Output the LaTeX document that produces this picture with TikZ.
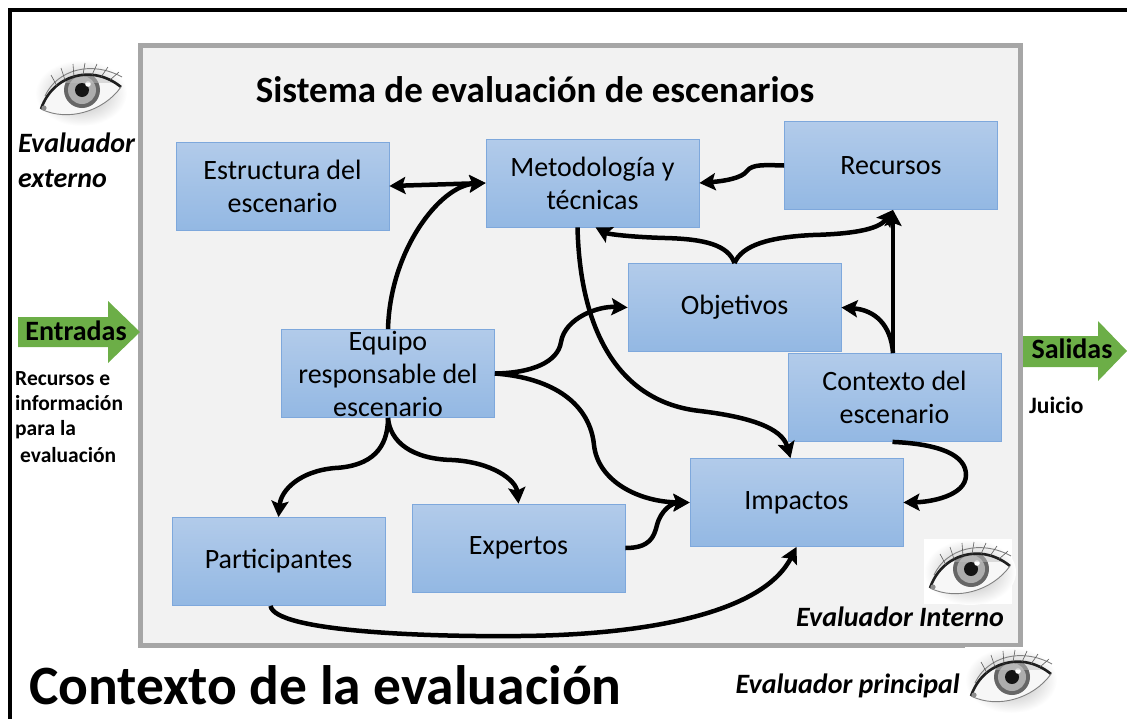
\documentclass[tikz,border=0pt]{standalone}
\usepackage{fontspec}
\setmainfont{Carlito}
\usetikzlibrary{arrows.meta}

\definecolor{boxtop}{HTML}{B2CBEA}
\definecolor{boxbot}{HTML}{93B8E3}
\definecolor{boxline}{HTML}{7EA8DC}
\definecolor{panel}{HTML}{F2F2F2}
\definecolor{panelline}{HTML}{A6A6A6}
\definecolor{flow}{HTML}{6CAE47}

\tikzset{
  >={Stealth[length=16pt,width=17pt,inset=3pt]},
  stepbox/.style={rectangle, draw=boxline, line width=0.8pt,
    top color=boxtop, bottom color=boxbot,
    minimum width=213pt, minimum height=88pt, inner sep=0pt,
    align=center, font=\fontsize{28}{33}\selectfont},
  link/.style={line width=4.5pt, ->},
  sidetext/.style={inner sep=0pt, font=\bfseries\fontsize{21.5}{25}\selectfont},
  evaltext/.style={inner sep=0pt, font=\bfseries\itshape\fontsize{28}{35}\selectfont},
  flowtext/.style={inner sep=0pt, font=\bfseries\fontsize{28}{32}\selectfont},
  % a small pencil-style eye, 88 x 65, placed by its top-left corner
  eyepic/.pic={
    \fill[white] (0,0) rectangle (88,65);
    \shade[inner color=black!32, outer color=white] (46,33) ellipse [x radius=46, y radius=33];
    \draw[black!50, line width=0.9pt] (10,36) .. controls (22,10) and (56,0) .. (87,17);
    \fill[black!3] (6,49) .. controls (18,14) and (58,4) .. (86,27)
                   .. controls (68,52) and (32,62) .. (6,49) -- cycle;
    \begin{scope}
      \clip (6,49) .. controls (18,14) and (58,4) .. (86,27)
            .. controls (68,52) and (32,62) .. (6,49) -- cycle;
      \fill[black!60] (47,30) circle (18);
      \fill[black!32] (47,30) circle (14);
      \fill[black!92] (47,30) circle (7);
      \fill[white] (53,24) circle (2.8);
      \fill[black!25, opacity=0.5] (6,8) rectangle (88,23);
    \end{scope}
    \draw[black!88, line width=2.6pt] (6,49) .. controls (18,14) and (58,4) .. (86,27);
    \draw[black!50, line width=0.9pt] (6,49) .. controls (32,62) and (68,52) .. (86,27);
    \fill[black!45] (9,48) circle (2.6);
    \foreach \a/\b/\c/\d in {22/26/16/15, 30/20/26/8, 39/17/38/4, 48/15/50/3,
                             57/15/62/4, 66/17/73/7, 75/20/84/12}
      \draw[black!65, line width=0.6pt] (\a,\b) -- (\c,\d);
  }
}

\begin{document}
\begin{tikzpicture}[x=1pt,y=-1pt]
\useasboundingbox (0,0) rectangle (1127,718);

% outer frame of the evaluation context
\draw[line width=4pt] (10,730) -- (10,10) -- (1140,10);

% the scenario evaluation system panel
\draw[draw=panelline, line width=4.5pt, fill=panel] (140.5,45.5) rectangle (1020.5,645.5);
\node[anchor=base, inner sep=0pt, font=\bfseries\fontsize{37}{42}\selectfont] (title) at (535,102)
  {Sistema de evaluación de escenarios};

% components
\node[stepbox] (estr) at (282.5,186)   {Estructura del\\escenario};
\node[stepbox] (meto) at (592.5,183)   {Metodología y\\técnicas};
\node[stepbox] (recu) at (891,165.5)   {Recursos};
\node[stepbox] (obje) at (734.5,307.5) {Objetivos};
\node[stepbox] (equi) at (388,373.5)   {Equipo\\responsable del\\escenario};
\node[stepbox] (cont) at (894.5,397.5) {Contexto del\\escenario};
\node[stepbox] (impa) at (796.5,502.5) {Impactos};
\node[stepbox] (part) at (278.5,561.5) {Participantes};
\node[stepbox] (expe) at (518.5,548)   {Expertos};

% relations
\draw[link,<->] (estr.east) -- (meto.west);
\draw[link] (equi.north) .. controls (390,250) and (440,186) .. (meto.west);
\draw[link] (recu.west) .. controls (765,165) and (752,164) .. (747,171)
            .. controls (742,178) and (725,181) .. (meto.east);
\draw[link] (obje.north) .. controls (728,245) and (705,239) .. (665,238)
            .. controls (630,237) and (608,234) .. ([xshift=3pt]meto.south);
\draw[link] (obje.north) .. controls (742,245) and (770,237) .. (813,235)
            .. controls (850,234) and (878,230) .. ([xshift=2pt]recu.south);
\draw[link] ([xshift=-1.5pt]cont.north) -- ([xshift=2pt]recu.south);
\draw[link] ([xshift=-1.5pt]cont.north) .. controls (891,325) and (875,310) .. (obje.east);
\draw[link] ([xshift=-15pt]meto.south) .. controls (580,330) and (618,402) .. (700,411)
            .. controls (750,417) and (782,428) .. ([xshift=-6pt]impa.north);
\draw[link] (equi.east) .. controls (532,373) and (558,362) .. (561,342)
            .. controls (565,318) and (598,306) .. (obje.west);
\draw[link] (equi.east) .. controls (555,378) and (590,405) .. (594,445)
            .. controls (598,482) and (640,502) .. (impa.west);
\draw[link] (equi.south) .. controls (388,448) and (372,466) .. (335,468)
            .. controls (300,471) and (281,490) .. (part.north);
\draw[link] (equi.south) .. controls (390,442) and (412,459) .. (452,460)
            .. controls (492,462) and (516,480) .. (expe.north);
\draw[link] (expe.east) .. controls (650,548) and (654,537) .. (657,525)
            .. controls (661,510) and (672,503) .. (impa.west);
\draw[link] ([xshift=-2pt]cont.south) .. controls (940,444) and (966,455) .. (966,475)
            .. controls (966,496) and (930,502) .. (impa.east);
\draw[link] ([xshift=-8pt]part.south) .. controls (275,632) and (430,637) .. (520,636)
            .. controls (640,635) and (762,615) .. (impa.south);

% inputs
\fill[flow] (18,317) -- (108,317) -- (108,301) -- (140,332) -- (108,363) -- (108,347) -- (18,347) -- cycle;
\node[flowtext, anchor=base] (inlbl) at (76,340) {Entradas};
\node[sidetext, anchor=base west] (in1) at (15,385) {Recursos e};
\node[sidetext, anchor=base west] (in2) at (15,410) {información};
\node[sidetext, anchor=base west] (in3) at (15,435) {para la};
\node[sidetext, anchor=base west] (in4) at (20,462) {evaluación};

% outputs
\fill[flow] (1023,336) -- (1098,336) -- (1098,321) -- (1127,351) -- (1098,381) -- (1098,367) -- (1023,367) -- cycle;
\node[flowtext, anchor=base] (outlbl) at (1072,358) {Salidas};
\node[sidetext, anchor=base west, font=\bfseries\fontsize{23.5}{28}\selectfont] (out1) at (1029,413) {Juicio};

% evaluators
\pic at (35,60) {eyepic};
\node[evaltext, anchor=base west] (ext1) at (18,152) {Evaluador};
\node[evaltext, anchor=base west] (ext2) at (18,187) {externo};
\pic at (924,539) {eyepic};
\node[evaltext, anchor=base east] (intl) at (1004,626) {Evaluador Interno};
\pic at (965,647) {eyepic};
\node[evaltext, anchor=base east] (prin) at (960,693) {Evaluador principal};

% context caption
\node[anchor=base west, inner sep=0pt, font=\bfseries\fontsize{55.5}{60}\selectfont] (ctx) at (29,704)
  {Contexto de la evaluación};
\end{tikzpicture}
\end{document}
